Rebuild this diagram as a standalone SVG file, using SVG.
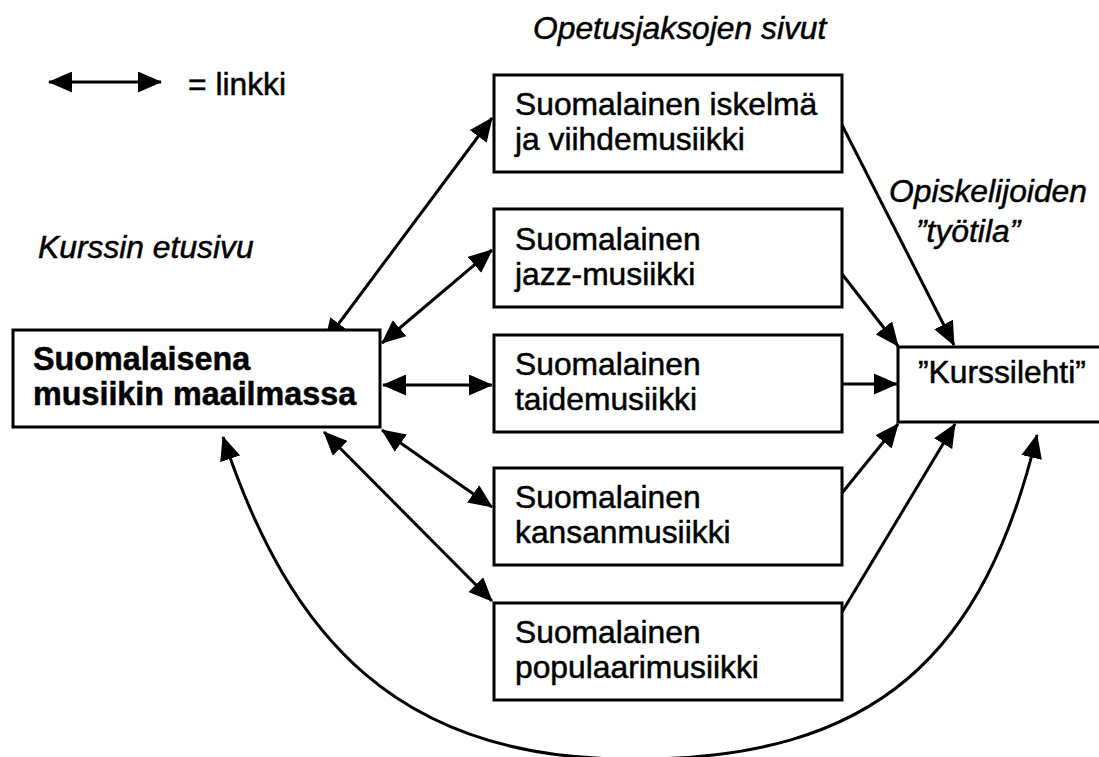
<svg xmlns="http://www.w3.org/2000/svg" width="1099" height="757" viewBox="0 0 1099 757">
<style>
.box{fill:#fff;stroke:#000;stroke-width:3}
.t{font-family:"Liberation Sans",Arial,sans-serif;font-size:31.8px;fill:#000;stroke:#000;stroke-width:0.5}
.b{font-weight:bold;font-size:32.3px}
.i{font-style:italic}
.c{fill:none;stroke:#000;stroke-width:3}
</style>
<defs>
<marker id="ah" viewBox="0 0 24 21" refX="23" refY="10.5" markerWidth="24" markerHeight="21" markerUnits="userSpaceOnUse" orient="auto-start-reverse">
<path d="M0,0 L24,10.5 L0,21 z" fill="#000"/>
</marker>
</defs>
<rect width="1099" height="757" fill="#fff"/>

<g id="legend">
<line x1="49" y1="82" x2="161" y2="82" class="c" marker-start="url(#ah)" marker-end="url(#ah)"/>
<text x="188" y="95" class="t">= linkki</text>
</g>

<g id="labels">
<text x="533" y="39" class="t i">Opetusjaksojen sivut</text>
<text x="38" y="258" class="t i">Kurssin etusivu</text>
<text x="889" y="202" class="t i">Opiskelijoiden</text>
<text x="916" y="242" class="t i">”työtila”</text>
</g>

<g id="connectors">
<line x1="325" y1="342" x2="492" y2="118" class="c" marker-start="url(#ah)" marker-end="url(#ah)"/>
<line x1="382" y1="343" x2="492" y2="250" class="c" marker-start="url(#ah)" marker-end="url(#ah)"/>
<line x1="383" y1="385" x2="492" y2="385" class="c" marker-start="url(#ah)" marker-end="url(#ah)"/>
<line x1="382" y1="430" x2="492" y2="507" class="c" marker-start="url(#ah)" marker-end="url(#ah)"/>
<line x1="324" y1="432" x2="492" y2="601" class="c" marker-start="url(#ah)" marker-end="url(#ah)"/>
<path d="M223,437 C290,640 400,759 628,759 C880,762 985,650 1037,435" class="c" marker-start="url(#ah)" marker-end="url(#ah)"/>
<line x1="842" y1="125" x2="954" y2="345" class="c" marker-end="url(#ah)"/>
<line x1="842" y1="274" x2="898" y2="346" class="c" marker-end="url(#ah)"/>
<line x1="842" y1="384" x2="897" y2="384" class="c" marker-end="url(#ah)"/>
<line x1="842" y1="493" x2="898" y2="424" class="c" marker-end="url(#ah)"/>
<line x1="842" y1="612" x2="955" y2="424" class="c" marker-end="url(#ah)"/>
</g>

<g id="main">
<rect x="13" y="330" width="367" height="97" class="box"/>
<text x="33" y="370" class="t b">Suomalaisena</text>
<text x="33" y="405" class="t b">musiikin maailmassa</text>
</g>

<g id="iskelma">
<rect x="494" y="75" width="348" height="97" class="box"/>
<text x="515" y="115" class="t">Suomalainen iskelmä</text>
<text x="515" y="150" class="t">ja viihdemusiikki</text>
</g>

<g id="jazz">
<rect x="494" y="209" width="348" height="98" class="box"/>
<text x="515" y="250" class="t">Suomalainen</text>
<text x="515" y="285" class="t">jazz-musiikki</text>
</g>

<g id="taide">
<rect x="494" y="335" width="348" height="97" class="box"/>
<text x="515" y="375" class="t">Suomalainen</text>
<text x="515" y="410" class="t">taidemusiikki</text>
</g>

<g id="kansan">
<rect x="494" y="468" width="348" height="97" class="box"/>
<text x="515" y="508" class="t">Suomalainen</text>
<text x="515" y="543" class="t">kansanmusiikki</text>
</g>

<g id="populaari">
<rect x="494" y="603" width="348" height="97" class="box"/>
<text x="515" y="643" class="t">Suomalainen</text>
<text x="515" y="678" class="t">populaarimusiikki</text>
</g>

<g id="kurssilehti">
<rect x="898" y="347" width="210" height="75" class="box"/>
<text x="918" y="383" class="t">”Kurssilehti”</text>
</g>
</svg>
